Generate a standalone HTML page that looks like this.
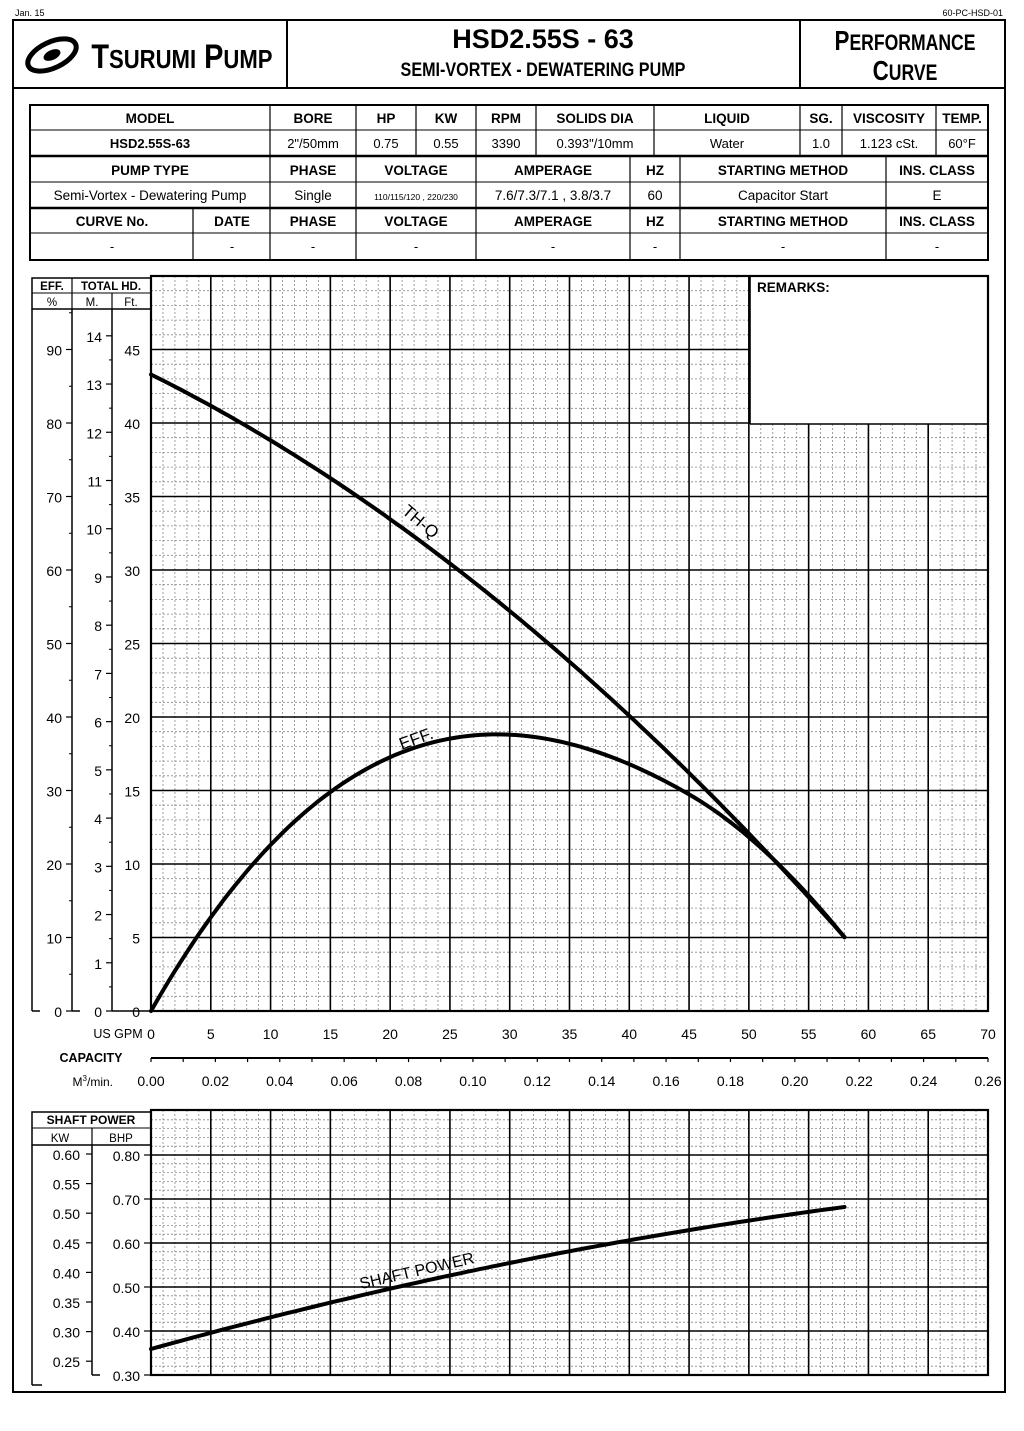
<!DOCTYPE html>
<html><head><meta charset="utf-8"><style>
body{margin:0;background:#fff;}
svg{display:block;font-family:"Liberation Sans",sans-serif;}
</style></head><body>
<svg id="s" width="1024" height="1431" viewBox="0 0 1024 1431" xmlns="http://www.w3.org/2000/svg"></svg>
<script>
var o='';
function L(x1,y1,x2,y2,w,c,d){o+='<line x1="'+x1+'" y1="'+y1+'" x2="'+x2+'" y2="'+y2+'" stroke="'+(c||'#000')+'" stroke-width="'+(w||1)+'"'+(d?' stroke-dasharray="'+d+'"':'')+'/>';}
function T(x,y,s,sz,a,b,extra){o+='<text x="'+x+'" y="'+y+'" font-size="'+sz+'" text-anchor="'+(a||'middle')+'"'+(b?' font-weight="bold"':'')+(extra||'')+'>'+s+'</text>';}
function R(x,y,w,h,sw,f){o+='<rect x="'+x+'" y="'+y+'" width="'+w+'" height="'+h+'" fill="'+(f||'none')+'" stroke="#000" stroke-width="'+sw+'"/>';}
T(15,16,'Jan. 15',9,'start');T(1003,16,'60-PC-HSD-01',9,'end');
R(13,20,992,1372,2);
L(13,88,1005,88,2);L(287,20,287,88,2);L(800,20,800,88,2);
o+='<ellipse cx="52" cy="55" rx="26" ry="13" fill="none" stroke="#000" stroke-width="5" transform="rotate(-25 52 55)"/><ellipse cx="52" cy="55" rx="9" ry="5" fill="#000" transform="rotate(-25 52 55)"/>';
T(182,68,'T<tspan font-size="26">SURUMI</tspan> P<tspan font-size="26">UMP</tspan>',34,'middle',true,' transform="scale(0.85 1) translate(32 0)"');
T(543,48,'HSD2.55S - 63',27,'middle',true);
T(543,76,'SEMI-VORTEX - DEWATERING PUMP',19,'middle',true,' transform="translate(543 0) scale(0.85 1) translate(-543 0)"');
T(905,50,'P<tspan font-size="22">ERFORMANCE</tspan>',28,'middle',true,' transform="translate(905 0) scale(0.8 1) translate(-905 0)"');
T(905,80,'C<tspan font-size="22">URVE</tspan>',28,'middle',true,' transform="translate(905 0) scale(0.8 1) translate(-905 0)"');
R(30,105,958,155,2);
L(30,130,988,130,1);L(30,156,988,156,2.5);L(30,182,988,182,1);L(30,208,988,208,2.5);L(30,233,988,233,1);
var c1=[270,356,416,476,536,654,800,842,936];c1.forEach(function(x){L(x,105,x,156,1.2);});
var c2=[270,356,476,630,680,886];c2.forEach(function(x){L(x,156,x,260,1.2);});L(193,208,193,260,1.2);
var h1=[['MODEL',150],['BORE',313],['HP',386],['KW',446],['RPM',506],['SOLIDS DIA',595],['LIQUID',727],['SG.',821],['VISCOSITY',889],['TEMP.',962]];
h1.forEach(function(a){T(a[1],123,a[0],13.5,'middle',true);});
var v1=[['HSD2.55S-63',150],['2"/50mm',313],['0.75',386],['0.55',446],['3390',506],['0.393"/10mm',595],['Water',727],['1.0',821],['1.123 cSt.',889],['60°F',962]];
v1.forEach(function(a,i){T(a[1],148,a[0],13,'middle',i==0);});
var h2=[['PUMP TYPE',150],['PHASE',313],['VOLTAGE',416],['AMPERAGE',553],['HZ',655],['STARTING METHOD',783],['INS. CLASS',937]];
h2.forEach(function(a){T(a[1],175,a[0],13.5,'middle',true);});
var v2=[['Semi-Vortex - Dewatering Pump',150],['Single',313],['',416],['7.6/7.3/7.1 , 3.8/3.7',553],['60',655],['Capacitor Start',783],['E',937]];
v2.forEach(function(a){T(a[1],200,a[0],13.5);});T(416,200,'110/115/120 , 220/230',8.5);
var h3=[['CURVE No.',112],['DATE',232],['PHASE',313],['VOLTAGE',416],['AMPERAGE',553],['HZ',655],['STARTING METHOD',783],['INS. CLASS',937]];
h3.forEach(function(a){T(a[1],226,a[0],13.5,'middle',true);});
h3.forEach(function(a){T(a[1],251,'-',13);});
var X0=151,X1=988,Y0=1011,YT=276,fx=(X1-X0)/70,fy=14.7;
function gx(g){return X0+g*fx;}function gy(f){return Y0-f*fy;}
for(var g=1;g<70;g++){if(g%5)L(gx(g).toFixed(1),YT,gx(g).toFixed(1),Y0,0.8,'#888','2,2');}
for(var f=1;f<50;f++){if(f%5)L(X0,gy(f).toFixed(1),X1,gy(f).toFixed(1),0.8,'#888','2,2');}
for(var g=5;g<70;g+=5)L(gx(g),YT,gx(g),Y0,1.6);
for(var f=5;f<50;f+=5)L(X0,gy(f),X1,gy(f),1.6);
o+='<rect x="750" y="276" width="238" height="148" fill="#fff"/>';
L(750,276,750,424,1.6);L(750,424,988,424,1.6);
T(757,292,'REMARKS:',13.5,'start',true);
R(X0,YT,X1-X0,Y0-YT,2.2);
R(32,278,119,31,1.5);L(32,293,151,293,1);L(72,278,72,309,1.2);L(112,293,112,309,1.2);
T(52,290,'EFF.',11.5,'middle',true);T(111,290,'TOTAL HD.',11.5,'middle',true);
T(52,306,'%',11.5);T(92,306,'M.',11.5);T(131,306,'Ft.',11.5);
L(32,309,32,1011,1.5);L(32,1011,40,1011,1.5);
L(72,309,72,1011,1.5);L(72,1011,80,1011,1.5);
L(112,309,112,1011,1.5);L(112,1011,151,1011,1.5);
for(var e=0;e<=90;e+=10){var y=Y0-e*7.35;L(66,y,72,y,1.2);T(62,y+6,e,14,'end');}
for(var e=5;e<=95;e+=10){var y=Y0-e*7.35;L(69,y,72,y,1);}
var mf=3.2808*fy;
for(var m=0;m<=14;m++){var y=Y0-m*mf;L(106,y,112,y,1.2);T(102,y+6,m,14,'end');var y2=Y0-(m+0.5)*mf;if(m<14)L(109,y2,112,y2,1);}
for(var f=0;f<=45;f+=5){var y=gy(f);T(140,y+6,f,14,'end');}
for(var g=0;g<=70;g+=5)T(gx(g),1039,g,14);
T(118,1038,'US GPM',12.5,'middle');
T(91,1062,'CAPACITY',12.5,'middle',true);
T(113,1086,'M<tspan font-size="8" dy="-5">3</tspan><tspan dy="5">/min.</tspan>',12,'end');
L(X0,1058,X1,1058,2);
var mx=(X1-X0)/0.26;
for(var i=0;i<=26;i++){var x=X0+i*0.01*mx;L(x,1058,x,1062,1.2);}
for(var i=0;i<=13;i++){var v=(i*0.02).toFixed(2);T(X0+i*0.02*mx,1086,v,14);}
function curve(fn,w){var d='';for(var g=0;g<=58.001;g+=0.5){var p=fn(g);d+=(g==0?'M':' L')+gx(g).toFixed(1)+','+p.toFixed(1);}o+='<path d="'+d+'" fill="none" stroke="#000" stroke-width="'+w+'" stroke-linejoin="round" stroke-linecap="round"/>';}
curve(function(g){return gy(43.3-0.404*g-0.00441*g*g);},4);
curve(function(g){var e=2.853*g-0.0623*g*g+0.000299*g*g*g;if(g>45)e-=0.0249*(g-45)*(g-45);return Y0-e*7.35;},4);
T(0,0,'TH-Q',17,'middle',false,' transform="translate(417 526) rotate(40)"');
T(0,0,'EFF.',17,'middle',false,' transform="translate(418 744) rotate(-20)"');
var BT=1110,BB=1375;function by(b){return BB-(b-0.3)*440;}
for(var g=1;g<70;g++){if(g%5)L(gx(g).toFixed(1),BT,gx(g).toFixed(1),BB,0.8,'#888','2,2');}
for(var i=1;i<30;i++){if(i%5){var y=BB-i*8.8;L(X0,y.toFixed(1),X1,y.toFixed(1),0.8,'#888','2,2');}}
for(var g=5;g<70;g+=5)L(gx(g),BT,gx(g),BB,1.6);
for(var b=0.4;b<0.85;b+=0.1)L(X0,by(b),X1,by(b),1.6);
R(X0,BT,X1-X0,BB-BT,2.2);
R(32,1112,119,33,1.5);L(32,1128,151,1128,1);L(92,1128,92,1145,1.2);
T(91,1124,'SHAFT POWER',12,'middle',true);T(60,1142,'KW',11.5);T(121,1142,'BHP',11.5);
L(32,1145,32,1385,1.5);L(32,1385,42,1385,1.5);L(92,1145,92,1375,1.5);L(92,1375,100,1375,1.5);
for(var k=0.25;k<0.61;k+=0.05){var y=1154+(0.60-k)/0.05*29.6;L(86,y,92,y,1.2);T(80,y+6,k.toFixed(2),14,'end');}
for(var b=0.3;b<0.81;b+=0.1){var y=by(b);L(144,y,151,y,1.2);T(140,y+6,b.toFixed(2),14,'end');}
curve(function(g){return 1349-3.316*g+0.01496*g*g;},4);
T(0,0,'SHAFT POWER',16,'middle',false,' transform="translate(418 1276) rotate(-13)"');
document.getElementById('s').innerHTML=o;
</script>
</body></html>
